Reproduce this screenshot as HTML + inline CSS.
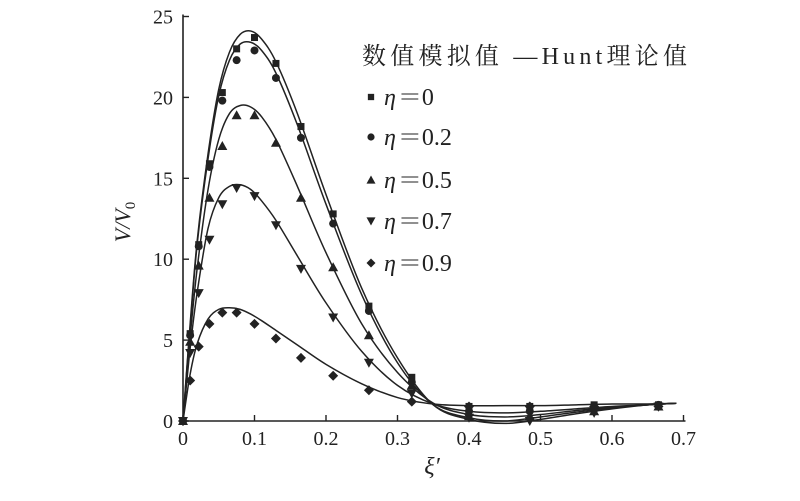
<!DOCTYPE html>
<html><head><meta charset="utf-8"><style>
html,body{margin:0;padding:0;background:#fff;}
svg{display:block;}
text{font-family:"Liberation Serif","Noto Serif CJK SC",serif;fill:#222;}
</style></head><body>
<svg id="chart" width="800" height="501" viewBox="0 0 800 501" xmlns="http://www.w3.org/2000/svg">
<g id="axes"></g>
<g id="curves"></g>
<g id="points"></g>
<g id="legend">
<text x="362" y="64" font-size="24" textLength="325" lengthAdjust="spacing" style="font-family:'Liberation Serif','Noto Serif CJK SC',serif">数值模拟值 —Hunt理论值</text>
</g>
<text transform="translate(130,222) rotate(-90)" text-anchor="middle" font-size="22" font-style="italic">V/V<tspan font-style="normal" font-size="15" dy="5">0</tspan></text>
<text x="432" y="474" text-anchor="middle" font-size="24" font-style="italic">ξ′</text>
</svg>
<script>
const xTicks=[0,0.1,0.2,0.3,0.4,0.5,0.6,0.7];
const xTickLabels=["0","0.1","0.2","0.3","0.4","0.5","0.6","0.7"];
const yTicks=[0,5,10,15,20,25];
const yTickLabels=["0","5","10","15","20","25"];
const seriesNames=["η=0","η=0.2","η=0.5","η=0.7","η=0.9"];
const seriesLabels=["0","0.2","0.5","0.7","0.9"];
const markerTypes=["square","circle","triangle","down","diamond"];
const pointX=[0,0.01,0.022,0.037,0.055,0.075,0.1,0.13,0.165,0.21,0.26,0.32,0.40,0.485,0.575,0.665];
const pts0=[0,5.4,10.9,15.9,20.3,23.0,23.7,22.1,18.2,12.8,7.1,2.7,0.9,0.9,1.0,1.0];
const pts1=[0,5.3,10.8,15.7,19.8,22.3,22.9,21.2,17.5,12.2,6.8,2.4,0.6,0.6,0.8,1.0];
const pts2=[0,4.9,9.6,13.8,17.0,18.9,18.9,17.2,13.8,9.5,5.3,2.2,0.3,0.3,0.6,0.9];
const pts3=[0,4.2,7.9,11.2,13.4,14.4,13.9,12.1,9.4,6.4,3.6,1.7,0.2,0.0,0.5,0.9];
const pts4=[0,2.5,4.6,6.0,6.7,6.7,6.0,5.1,3.9,2.8,1.9,1.2,0.9,0.9,0.9,0.9];
const curveX=[0,0.01,0.02,0.035,0.05,0.065,0.08,0.095,0.11,0.13,0.16,0.2,0.25,0.3,0.35,0.4,0.45,0.5,0.55,0.6,0.65,0.69];
const cur0=[0,6,11.2,16.5,20.5,22.8,23.9,24.1,23.6,22.2,19,14,8.2,3.9,1.0,0.1,-0.15,0.1,0.45,0.75,1.0,1.1];
const cur1=[0,5.8,11,16.2,20.1,22.3,23.3,23.4,22.9,21.5,18.3,13.4,7.8,3.6,1.0,0.2,0,0.25,0.55,0.8,1.0,1.1];
const cur2=[0,5.2,9.5,14.3,17.4,19,19.5,19.4,18.8,17.4,14.5,10.4,6.0,3.0,1.1,0.4,0.25,0.4,0.65,0.85,1.0,1.1];
const cur3=[0,4.5,8,11.9,13.8,14.5,14.6,14.3,13.6,12.4,10.2,7.3,4.3,2.2,1.05,0.6,0.5,0.6,0.75,0.9,1.0,1.1];
const cur4=[0,2.9,4.8,6.3,6.9,7.0,6.9,6.6,6.2,5.6,4.7,3.5,2.3,1.45,1.05,0.95,0.95,0.95,1.0,1.05,1.05,1.1];
const allPts=[pts0,pts1,pts2,pts3,pts4];
const allCur=[cur0,cur1,cur2,cur3,cur4];
const X0=183,XS=715,Y0=421,YS=16.18;
const sx=v=>X0+v*XS, sy=v=>Y0-v*YS;
const NS="http://www.w3.org/2000/svg";
function mk(tag,attrs,parent){const e=document.createElementNS(NS,tag);for(const k in attrs)e.setAttribute(k,attrs[k]);parent.appendChild(e);return e;}
const axes=document.getElementById('axes');
let a=mk('line',{x1:sx(0),y1:Y0,x2:sx(0.7)+2,y2:Y0,stroke:'#222','stroke-width':1.6},axes);


a=mk('line',{x1:X0,y1:Y0,x2:X0,y2:sy(25)-2,stroke:'#222','stroke-width':1.6},axes);


xTicks.forEach((t,i)=>{
 const l=mk('line',{x1:sx(t),y1:Y0,x2:sx(t),y2:Y0-6,stroke:'#222','stroke-width':1.4},axes);
 
 
 const tx=mk('text',{x:sx(t),y:Y0+24,'text-anchor':'middle','font-size':20},axes);
 tx.textContent=xTickLabels[i];
 
 
});
yTicks.forEach((t,i)=>{
 const l=mk('line',{x1:X0,y1:sy(t),x2:X0+6,y2:sy(t),stroke:'#222','stroke-width':1.4},axes);
 
 
 const tx=mk('text',{x:X0-10,y:sy(t)+7,'text-anchor':'end','font-size':20},axes);
 tx.textContent=yTickLabels[i];
 
 
});
function smoothPath(xs,ys){
 const p=xs.map((x,i)=>[sx(x),sy(ys[i])]);
 let d='M'+p[0][0]+','+p[0][1];
 for(let i=0;i<p.length-1;i++){
  const p0=p[Math.max(i-1,0)],p1=p[i],p2=p[i+1],p3=p[Math.min(i+2,p.length-1)];
  const c1=[p1[0]+(p2[0]-p0[0])/6,p1[1]+(p2[1]-p0[1])/6];
  const c2=[p2[0]-(p3[0]-p1[0])/6,p2[1]-(p3[1]-p1[1])/6];
  d+=' C'+c1[0]+','+c1[1]+' '+c2[0]+','+c2[1]+' '+p2[0]+','+p2[1];
 }
 return d;
}
const cg=document.getElementById('curves');
allCur.forEach((c,i)=>{
 const p=mk('path',{d:smoothPath(curveX,c),fill:'none',stroke:'#222','stroke-width':1.5},cg);
 
 
});
function marker(type,x,y,parent,s){
 s=s||1;let e;
 if(type==='square')e=mk('rect',{x:x-3.5*s,y:y-3.5*s,width:7*s,height:7*s,fill:'#222'},parent);
 else if(type==='circle')e=mk('circle',{cx:x,cy:y,r:4*s,fill:'#222'},parent);
 else if(type==='triangle')e=mk('polygon',{points:`${x},${y-5*s} ${x-5*s},${y+4*s} ${x+5*s},${y+4*s}`,fill:'#222'},parent);
 else if(type==='down')e=mk('polygon',{points:`${x},${y+5*s} ${x-5*s},${y-4*s} ${x+5*s},${y-4*s}`,fill:'#222'},parent);
 else e=mk('polygon',{points:`${x},${y-5*s} ${x+5*s},${y} ${x},${y+5*s} ${x-5*s},${y}`,fill:'#222'},parent);
 return e;
}
const pg=document.getElementById('points');
allPts.forEach((ps,i)=>{
 ps.forEach((v,j)=>{
  const m=marker(markerTypes[i],sx(pointX[j]),sy(v),pg);
  
  
 });
});
const lg=document.getElementById('legend');
const rowsY=[97,137,180,221,263];
seriesLabels.forEach((s,i)=>{
 const m=marker(markerTypes[i],371,rowsY[i],lg,0.9);
 
 
 const t=mk('text',{x:384,y:rowsY[i]+8,'font-size':24},lg);
 t.innerHTML='<tspan font-style="italic">η</tspan><tspan dx="2">＝</tspan>' + s;
 
 
});
</script>
</body></html>
